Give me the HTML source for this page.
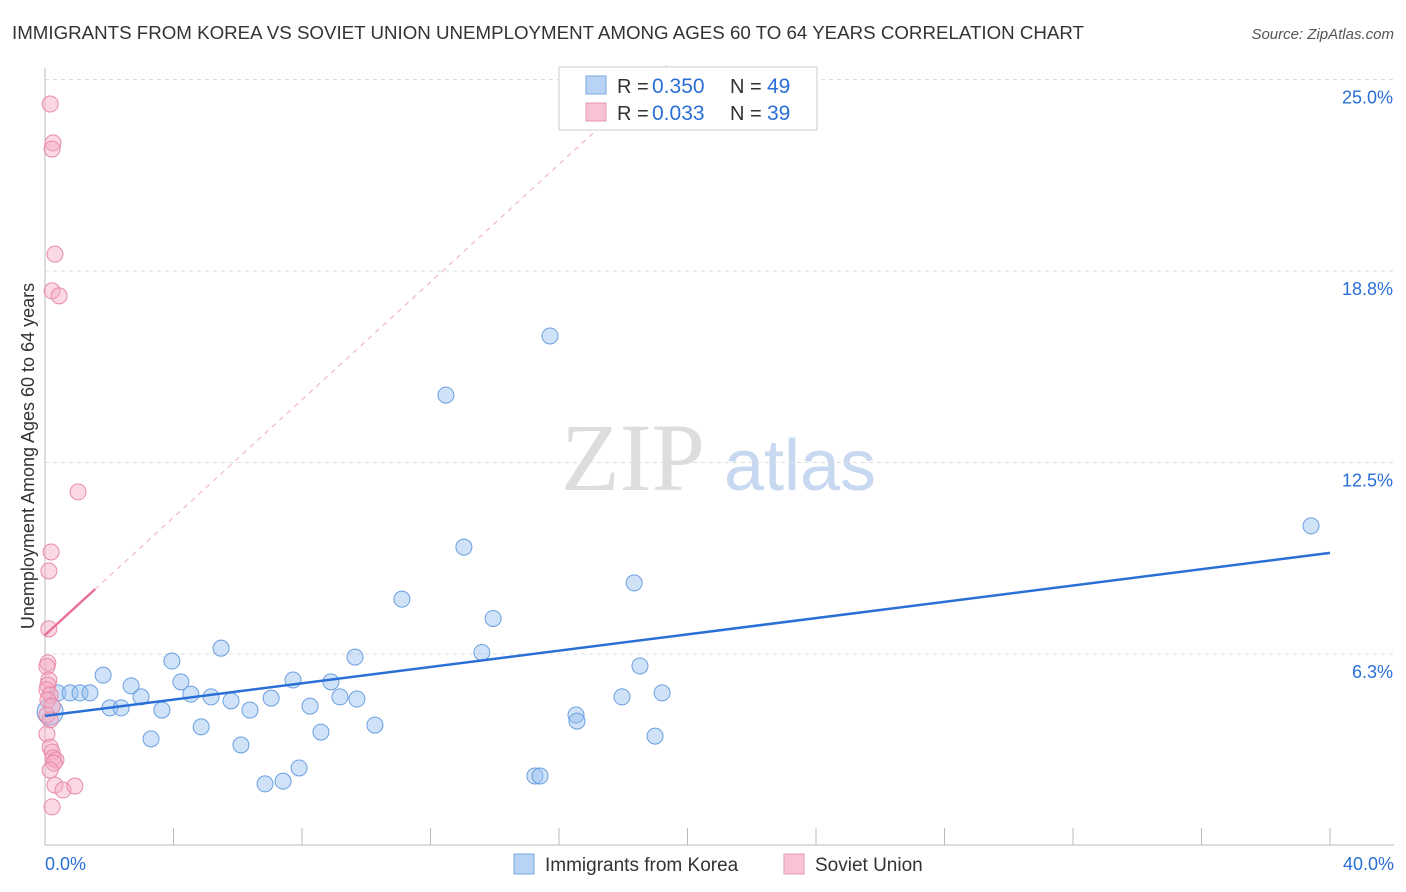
<!DOCTYPE html>
<html><head><meta charset="utf-8"><style>
body{margin:0;background:#fff;font-family:"Liberation Sans",sans-serif;}
svg{display:block}
</style></head><body>
<svg id="c" width="1406" height="892" xmlns="http://www.w3.org/2000/svg">
<text x="12" y="39" font-size="18" fill="#333" textLength="1072" lengthAdjust="spacingAndGlyphs">IMMIGRANTS FROM KOREA VS SOVIET UNION UNEMPLOYMENT AMONG AGES 60 TO 64 YEARS CORRELATION CHART</text>
<text x="1394" y="39" font-size="15" fill="#555" font-style="italic" text-anchor="end">Source: ZipAtlas.com</text>
<text x="633" y="490" font-size="96" fill="#ddd" font-family="Liberation Serif,serif" text-anchor="middle">ZIP</text>
<text x="800" y="490" font-size="72" fill="#c8d8f0" text-anchor="middle">atlas</text>
<text transform="translate(34,456) rotate(-90)" font-size="18" fill="#333" text-anchor="middle">Unemployment Among Ages 60 to 64 years</text>
<g id="grid"></g><g id="marks"></g>
<g>
<rect x="559" y="67" width="258" height="63" fill="#fff" stroke="#ccc"/>
<rect x="586" y="76" width="20" height="18" fill="#b8d4f4" stroke="#7aa8e0"/>
<rect x="586" y="103" width="20" height="18" fill="#f8c4d4" stroke="#e898b0"/>
<text x="617" y="93" font-size="20" fill="#333">R =</text>
<text x="652" y="93" font-size="21" fill="#2a6fd6">0.350</text>
<text x="730" y="93" font-size="20" fill="#333">N =</text>
<text x="767" y="93" font-size="21" fill="#2a6fd6">49</text>
<text x="617" y="120" font-size="20" fill="#333">R =</text>
<text x="652" y="120" font-size="21" fill="#2a6fd6">0.033</text>
<text x="730" y="120" font-size="20" fill="#333">N =</text>
<text x="767" y="120" font-size="21" fill="#2a6fd6">39</text>
</g>
<g>
<rect x="514" y="854" width="20" height="20" fill="#b8d4f4" stroke="#7aa8e0"/>
<text x="545" y="871" font-size="19" fill="#333">Immigrants from Korea</text>
<rect x="784" y="854" width="20" height="20" fill="#f8c4d4" stroke="#e898b0"/>
<text x="815" y="871" font-size="19" fill="#333">Soviet Union</text>
</g>
</svg>
<script>
const koreaX=[0.40,0.78,1.09,1.40,1.81,2.02,2.37,2.68,2.99,3.30,3.64,3.95,4.23,4.54,4.86,5.17,5.48,5.79,6.10,6.38,6.85,7.04,7.41,7.72,7.91,8.25,8.59,8.90,9.18,9.65,9.71,10.27,11.11,12.48,13.04,13.60,13.95,15.25,15.41,15.72,16.53,16.56,17.96,18.34,18.52,18.99,19.21,39.41,0.16];
const koreaY=[4.98,4.98,4.98,4.98,5.56,4.49,4.49,5.21,4.85,3.48,4.42,6.02,5.34,4.94,3.87,4.85,6.44,4.72,3.28,4.42,2.01,4.81,2.10,5.40,2.53,4.55,3.70,5.34,4.85,6.15,4.78,3.93,8.04,14.70,9.74,6.30,7.41,2.27,2.27,16.63,4.26,4.06,4.85,8.57,5.86,3.57,4.98,10.43,4.36];
const sovietX=[0.16,0.25,0.22,0.31,0.22,0.44,1.03,0.19,0.12,0.12,0.09,0.06,0.12,0.09,0.06,0.16,0.09,0.22,0.06,0.16,0.06,0.16,0.22,0.25,0.34,0.28,0.16,0.31,0.56,0.93,0.22];
const sovietY=[24.20,22.93,22.73,19.30,18.10,17.94,11.54,9.58,8.96,7.07,5.96,5.84,5.40,5.24,5.08,4.91,4.75,4.55,4.26,4.10,3.64,3.21,3.05,2.86,2.79,2.69,2.46,1.97,1.81,1.94,1.26];
const koreaTrend=[4.23,0.133];
const sovietTrend=[6.87,0.96];
const yTicks=[6.25,12.5,18.75,25];
const yTickLabels=["6.3%","12.5%","18.8%","25.0%"];
const xTickValues=[0,4,8,12,16,20,24,28,32,36,40];

const NS="http://www.w3.org/2000/svg";
const sx=v=>45+v*32.125, sy=v=>845.5-v*30.64;
function mk(tag,at,parent){const e=document.createElementNS(NS,tag);for(const k in at)e.setAttribute(k,at[k]);parent.appendChild(e);return e;}
const grid=document.getElementById('grid'),marks=document.getElementById('marks');
yTicks.forEach((t,i)=>{
 let l=mk('line',{x1:45,x2:1394,y1:sy(t),y2:sy(t),stroke:'#ddd','stroke-dasharray':'4,4'},grid);
 
 
 let tx=mk('text',{x:1393,y:sy(t)+24,'font-size':18,fill:'#2a6fd6','text-anchor':'end'},grid);tx.textContent=yTickLabels[i];
 
 
});
let ax=mk('line',{x1:45,x2:45,y1:68,y2:845,stroke:'#bbb'},grid);


let bx=mk('line',{x1:45,x2:1394,y1:845,y2:845,stroke:'#bbb'},grid);


xTickValues.forEach(v=>{let t=mk('line',{x1:sx(v),x2:sx(v),y1:828,y2:845,stroke:'#bbb'},grid);
 
 });
[[0,'0.0%','start',45],[40,'40.0%','end',1394]].forEach(a=>{let t=mk('text',{x:a[3],y:870,'font-size':18,fill:'#2a6fd6','text-anchor':a[2]},grid);t.textContent=a[1];
 
 });
const sxEnd=(25.5-sovietTrend[0])/sovietTrend[1];
let d=mk('line',{x1:sx(1.56),y1:sy(sovietTrend[0]+sovietTrend[1]*1.56),x2:sx(sxEnd),y2:sy(25.5),stroke:'#f0a8bc','stroke-dasharray':'5,5'},marks);


koreaX.forEach((x,i)=>{let c=mk('circle',{cx:sx(x),cy:sy(koreaY[i]),r:i==koreaX.length-1?13:8,fill:'rgba(150,190,240,0.45)',stroke:'#6a9fe0','stroke-width':1},marks);
 
 });
sovietX.forEach((x,i)=>{let c=mk('circle',{cx:sx(x),cy:sy(sovietY[i]),r:8,fill:'rgba(245,170,195,0.45)',stroke:'#e88aa8','stroke-width':1},marks);
 
 });
let kl=mk('line',{x1:sx(0),y1:sy(koreaTrend[0]),x2:sx(40),y2:sy(koreaTrend[0]+koreaTrend[1]*40),stroke:'#2a6fd6','stroke-width':2.5},marks);


let sl=mk('line',{x1:sx(0),y1:sy(sovietTrend[0]),x2:sx(1.56),y2:sy(sovietTrend[0]+sovietTrend[1]*1.56),stroke:'#e8709a','stroke-width':2.5},marks);


</script>
</body></html>
